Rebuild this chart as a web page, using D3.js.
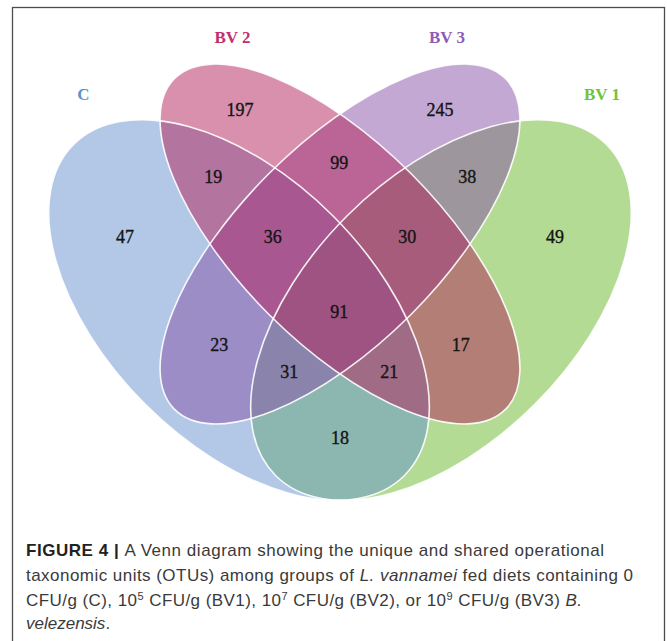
<!DOCTYPE html>
<html>
<head>
<meta charset="utf-8">
<script src="https://cdn.jsdelivr.net/npm/d3@7"></script>
<style>
  html, body { margin: 0; padding: 0; background: #ffffff; }
  svg { display: block; }
</style>
</head>
<body>
<div id="chart"></div>
<script>
// ---------- data ----------
const setNames = ["C", "BV 1", "BV 2", "BV 3"];
// region membership (which sets) and OTU counts
const regionSets = [
  ["C"], ["BV 2"], ["BV 3"], ["BV 1"],
  ["C", "BV 2"], ["BV 2", "BV 3"], ["BV 3", "BV 1"],
  ["C", "BV 2", "BV 3"], ["BV 2", "BV 3", "BV 1"], ["C", "BV 1", "BV 2", "BV 3"],
  ["C", "BV 3"], ["BV 2", "BV 1"],
  ["C", "BV 3", "BV 1"], ["C", "BV 2", "BV 1"], ["C", "BV 1"]
];
const regionCounts = [47, 197, 245, 49, 19, 99, 38, 36, 30, 91, 23, 17, 31, 21, 18];

// ---------- layout (diagram units -> pixels via scales) ----------
const W = 667, H = 641;
const x = d3.scaleLinear().domain([0, 1]).range([0, 680]);
const y = d3.scaleLinear().domain([0, 1]).range([0, 680]);

// ellipse geometry in diagram units (drawn in this order)
const ellipseSet = ["BV 1", "C", "BV 3", "BV 2"];
const ellipseCx  = [0.6485, 0.3515, 0.5, 0.5];
const ellipseCy  = [0.4559, 0.4559, 0.3588, 0.3588];
const ellipseA   = [0.3441, 0.3441, 0.3441, 0.3441];
const ellipseB   = [0.1956, 0.1956, 0.1471, 0.1471];
const ellipseRot = [-45, 45, -45, 45];
const setColor = {"C": "#6591cd", "BV 1": "#67b727", "BV 2": "#b32159", "BV 3": "#8751a7"};
const labelColor = {"C": "#5f8fd0", "BV 1": "#72c23a", "BV 2": "#c2306b", "BV 3": "#8f5cb3"};

// count label anchor positions (diagram units)
const regionLx = [0.1838, 0.3529, 0.6471, 0.8162, 0.3137, 0.4990, 0.6872, 0.4010, 0.5990, 0.4990, 0.3225, 0.6775, 0.4254, 0.5725, 0.5];
const regionLy = [0.3481, 0.1618, 0.1618, 0.3481, 0.2599, 0.2402, 0.2599, 0.3490, 0.3490, 0.4584, 0.5074, 0.5074, 0.5466, 0.5466, 0.6446];

// set title positions
const titleX = [0.1228, 0.8853, 0.3419, 0.6574];
const titleY = [0.1471, 0.1471, 0.0625, 0.0625];

const svg = d3.select("#chart").append("svg")
  .attr("width", W).attr("height", H)
  .attr("viewBox", `0 0 ${W} ${H}`);

svg.append("rect").attr("width", W).attr("height", H).attr("fill", "#fff");

// frame
svg.append("rect")
  .attr("x", 12.5).attr("y", 7.5)
  .attr("width", 652).attr("height", 720)
  .attr("fill", "none").attr("stroke", "#4d4d4d").attr("stroke-width", 1.3);

const gE = svg.append("g");
const eData = ellipseSet.map((s, i) => ({
  set: s, cx: x(ellipseCx[i]), cy: y(ellipseCy[i]),
  rx: x(ellipseA[i]), ry: x(ellipseB[i]), rot: ellipseRot[i]
}));

gE.selectAll("ellipse.fill").data(eData).join("ellipse")
  .attr("class", "fill")
  .attr("cx", d => d.cx).attr("cy", d => d.cy)
  .attr("rx", d => d.rx).attr("ry", d => d.ry)
  .attr("transform", d => `rotate(${d.rot} ${d.cx} ${d.cy})`)
  .attr("fill", d => setColor[d.set])
  .attr("fill-opacity", 0.5);

gE.selectAll("ellipse.outline").data(eData).join("ellipse")
  .attr("class", "outline")
  .attr("cx", d => d.cx).attr("cy", d => d.cy)
  .attr("rx", d => d.rx).attr("ry", d => d.ry)
  .attr("transform", d => `rotate(${d.rot} ${d.cx} ${d.cy})`)
  .attr("fill", "none")
  .attr("stroke", "#ffffff")
  .attr("stroke-opacity", 0.9)
  .attr("stroke-width", 1.6);

// counts
svg.append("g").selectAll("text").data(regionCounts).join("text")
  .attr("x", (d, i) => x(regionLx[i]))
  .attr("y", (d, i) => y(regionLy[i]))
  .attr("text-anchor", "middle")
  .attr("dominant-baseline", "central")
  .attr("font-family", "'Liberation Serif', 'DejaVu Serif', serif")
  .attr("font-size", 18)
  .attr("fill", "#151515")
  .attr("stroke", "#151515")
  .attr("stroke-width", 0.35)
  .text(d => d);

// set titles
svg.append("g").selectAll("text").data(setNames).join("text")
  .attr("x", (d, i) => x(titleX[i]))
  .attr("y", (d, i) => y(titleY[i]))
  .attr("text-anchor", "middle")
  .attr("font-family", "'Liberation Serif', 'DejaVu Serif', serif")
  .attr("font-weight", "bold")
  .attr("font-size", 17)
  .attr("fill", d => labelColor[d])
  .text(d => d);

// caption
const cap = svg.append("g")
  .attr("font-family", "'Liberation Sans', Arial, sans-serif")
  .attr("font-size", 17)
  .attr("fill", "#3a3a3a");

const capX = 26;
const l1 = cap.append("text").attr("x", capX).attr("y", 556)
  .attr("textLength", 578).attr("lengthAdjust", "spacing");
l1.append("tspan").attr("font-weight", 700).attr("fill", "#222").text("FIGURE 4 | ");
l1.append("tspan").text("A Venn diagram showing the unique and shared operational");

const l2 = cap.append("text").attr("x", capX).attr("y", 581)
  .attr("textLength", 607).attr("lengthAdjust", "spacing");
l2.append("tspan").text("taxonomic units (OTUs) among groups of ");
l2.append("tspan").attr("font-style", "italic").text("L. vannamei");
l2.append("tspan").text(" fed diets containing 0");

const l3 = cap.append("text").attr("x", capX).attr("y", 605.5)
  .attr("textLength", 556).attr("lengthAdjust", "spacing");
const parts3 = [["CFU/g (C), 10", false], ["5", true], [" CFU/g (BV1), 10", false], ["7", true],
                [" CFU/g (BV2), or 10", false], ["9", true], [" CFU/g (BV3) ", false]];
let prevSup = false;
parts3.forEach(([t, sup]) => {
  const ts = l3.append("tspan").text(t);
  if (sup) ts.attr("font-size", 11).attr("dy", -6);
  else ts.attr("dy", prevSup ? 6 : 0);
  prevSup = sup;
});
l3.append("tspan").attr("font-style", "italic").text("B.");

const l4 = cap.append("text").attr("x", capX).attr("y", 629);
l4.append("tspan").attr("font-style", "italic").text("velezensis");
l4.append("tspan").text(".");
</script>
</body>
</html>
